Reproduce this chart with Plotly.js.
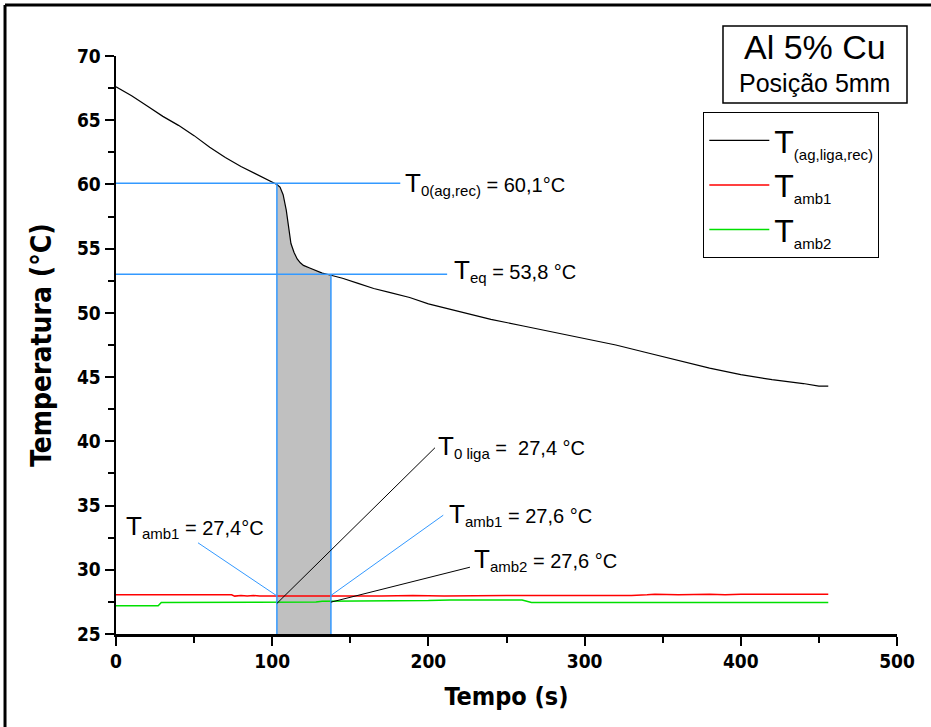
<!DOCTYPE html>
<html>
<head>
<meta charset="utf-8">
<script src="https://cdn.plot.ly/plotly-3.0.1.min.js"></script>
<style>html,body{margin:0;padding:0;background:#fff;}#chart{width:931px;height:727px;}</style>
</head>
<body>
<div id="chart"></div>
<script>
// ---- data ----
const tAlloy = [0,10,20,30,40,50,60,70,80,90,100,103,105,107,109,110,111,112,114,116,118,120,124,128,132,137,145,155,165,175,188,200,220,240,260,280,300,320,340,360,380,400,420,440,450,456];
const TAlloy = [67.6,66.9,66.1,65.3,64.6,63.8,62.9,62.1,61.4,60.8,60.2,60.0,59.8,59.2,58.0,57.0,56.0,55.4,54.7,54.2,53.9,53.7,53.5,53.3,53.1,52.95,52.7,52.3,51.9,51.6,51.2,50.7,50.1,49.5,49.0,48.5,48.0,47.5,46.9,46.3,45.7,45.2,44.8,44.5,44.3,44.3];

const tAmb1 = [0,74,76,80,84,88,92,96,100,104,108,112,116,120,124,128,132,136,140,150,170,190,210,250,280,300,330,340,345,360,380,390,400,420,440,456];
const TAmb1 = [28.05,28.05,27.95,28.0,27.95,28.0,27.95,27.95,27.9,27.95,27.9,27.95,27.9,27.95,27.9,27.95,27.9,27.9,27.95,27.95,27.95,28.0,27.95,28.0,28.0,27.95,28.0,28.05,28.1,28.05,28.1,28.05,28.1,28.1,28.1,28.1];

const tAmb2 = [0,27,29,100,128,132,160,200,214,260,266,300,330,360,400,456];
const TAmb2 = [27.2,27.2,27.45,27.45,27.5,27.55,27.55,27.6,27.65,27.65,27.45,27.45,27.5,27.45,27.5,27.45];

const sub = s => '<sub><span style="font-size:15px">' + s + '</span></sub>';
const seriesNames = ['T' + sub('(ag,liga,rec)'), 'T' + sub('amb1'), 'T' + sub('amb2')];
const seriesColors = ['#000000','#ff0000','#00e000'];

const titleLines = ['Al 5% Cu', 'Posição 5mm'];

const tStart = 103, tEnd = 137.6;      // recalescence interval
const T0 = 60.1, Teq = 53.0;           // levels of the horizontal guides
const T0LineEnd = 182, TeqLineEnd = 212;

const xTicks = [0,100,200,300,400,500];
const yTicks = [25,30,35,40,45,50,55,60,65,70];

// callout lines: [x0,y0,x1,y1,color]
const callouts = [
  [52.5,32.1,103,27.97,'#3399ff'],
  [103,27.38,204.2,39.5,'#000000'],
  [137.6,28.0,209.5,34.25,'#3399ff'],
  [137.6,27.48,226.6,30.2,'#000000']
];
const bigT = '<span style="font-size:26px">T</span>';
const lsub = s => '<sub><span style="font-size:15px">' + s + '</span></sub>';
const labels = [
  [184,60.1, bigT + lsub('0(ag,rec)') + ' = 60,1°C'],
  [215,53.3, bigT + lsub('eq') + ' = 53,8 °C'],
  [205,39.6, bigT + lsub('0 liga') + ' =  27,4 °C'],
  [5,33.4, bigT + lsub('amb1') + ' = 27,4°C'],
  [212,34.3, bigT + lsub('amb1') + ' = 27,6 °C'],
  [228,30.8, bigT + lsub('amb2') + ' = 27,6 °C']
];

// shaded area from the alloy curve
const shadeX = [], shadeY = [];
tAlloy.forEach((t,i)=>{ if(t>=tStart && t<=tEnd){shadeX.push(t);shadeY.push(TAlloy[i]);} });
shadeX.unshift(tStart); shadeY.unshift(T0);
shadeX.push(tEnd); shadeY.push(Teq);

const traces = [
  {x:shadeX,y:shadeY,mode:'lines',fill:'tozeroy',fillcolor:'#c0c0c0',line:{width:0,color:'#c0c0c0'},showlegend:false,hoverinfo:'skip'},
  {x:tAlloy,y:TAlloy,mode:'lines',name:seriesNames[0],line:{color:seriesColors[0],width:1.2}},
  {x:tAmb1,y:TAmb1,mode:'lines',name:seriesNames[1],line:{color:seriesColors[1],width:1.5}},
  {x:tAmb2,y:TAmb2,mode:'lines',name:seriesNames[2],line:{color:seriesColors[2],width:1.5}}
];

const blue = '#3399ff';
const shapes = [
  {type:'line',xref:'x',yref:'y',x0:tStart,x1:tStart,y0:25,y1:T0,line:{color:blue,width:1.5}},
  {type:'line',xref:'x',yref:'y',x0:tEnd,x1:tEnd,y0:25,y1:Teq,line:{color:blue,width:1.5}},
  {type:'line',xref:'x',yref:'y',x0:0,x1:T0LineEnd,y0:T0,y1:T0,line:{color:blue,width:1.5}},
  {type:'line',xref:'x',yref:'y',x0:0,x1:TeqLineEnd,y0:Teq,y1:Teq,line:{color:blue,width:1.5}},
  // outer frame (left and top edges)
  {type:'line',xref:'paper',yref:'paper',x0:-0.1421,x1:-0.1421,y0:-0.2,y1:1.0882,line:{color:'#000',width:3}},
  {type:'line',xref:'paper',yref:'paper',x0:-0.1421,x1:1.1,y0:1.0882,y1:1.0882,line:{color:'#000',width:3}},
  // title box
  {type:'rect',xref:'paper',yref:'paper',x0:0.7772,x1:1.0128,y0:0.9187,y1:1.0519,line:{color:'#000',width:1.5},fillcolor:'#fff'}
];
callouts.forEach(c=>shapes.push({type:'line',xref:'x',yref:'y',x0:c[0],y0:c[1],x1:c[2],y1:c[3],line:{color:c[4],width:1}}));

const annFont = {family:'Liberation Sans, Arial, sans-serif',size:20,color:'#000'};
const annotations = labels.map(l=>({x:l[0],y:l[1],xref:'x',yref:'y',text:l[2],showarrow:false,xanchor:'left',yanchor:'middle',font:annFont}));
annotations.push({xref:'paper',yref:'paper',x:0.895,y:1.0156,xanchor:'center',yanchor:'middle',text:titleLines[0],
  showarrow:false,font:{family:'Liberation Sans, Arial, sans-serif',size:34,color:'#000'}});
annotations.push({xref:'paper',yref:'paper',x:0.895,y:0.9525,xanchor:'center',yanchor:'middle',text:titleLines[1],
  showarrow:false,font:{family:'Liberation Sans, Arial, sans-serif',size:25,color:'#000'}});

const tickFont = {family:'DejaVu Sans Condensed, Liberation Sans, Arial, sans-serif',size:19,color:'#000',weight:'bold'};
const titleFont = {family:'DejaVu Sans Condensed, Liberation Sans, Arial, sans-serif',size:25,color:'#000',weight:'bold'};

const layout = {
  width:931,height:727,
  margin:{l:116,r:34,t:56,b:93},
  paper_bgcolor:'#fff',plot_bgcolor:'#fff',
  showlegend:true,
  legend:{x:0.752,y:0.903,xanchor:'left',yanchor:'top',bordercolor:'#000',borderwidth:1,bgcolor:'#fff',
    font:{family:'Liberation Sans, Arial, sans-serif',size:32,color:'#000'},itemwidth:60,tracegroupgap:0},
  xaxis:{range:[0,500],tickvals:xTicks,ticktext:xTicks.map(String),ticks:'outside',ticklen:9,tickwidth:2,tickcolor:'#000',
    showline:true,linecolor:'#000',linewidth:2.5,showgrid:false,zeroline:false,tickfont:tickFont,
    minor:{dtick:50,ticks:'outside',ticklen:6,tickwidth:2,tickcolor:'#000',showgrid:false},
    title:{text:'Tempo (s)',font:titleFont,standoff:16}},
  yaxis:{range:[25,70],tickvals:yTicks,ticktext:yTicks.map(String),ticks:'outside',ticklen:9,tickwidth:2,tickcolor:'#000',
    showline:true,linecolor:'#000',linewidth:2.5,showgrid:false,zeroline:false,tickfont:tickFont,
    minor:{dtick:2.5,ticks:'outside',ticklen:6,tickwidth:2,tickcolor:'#000',showgrid:false},
    title:{text:'Temperatura (°C)',font:Object.assign({},titleFont,{size:28}),standoff:17}},
  shapes:shapes,
  annotations:annotations
};

Plotly.newPlot('chart',traces,layout,{displayModeBar:false,staticPlot:true});
</script>
</body>
</html>
